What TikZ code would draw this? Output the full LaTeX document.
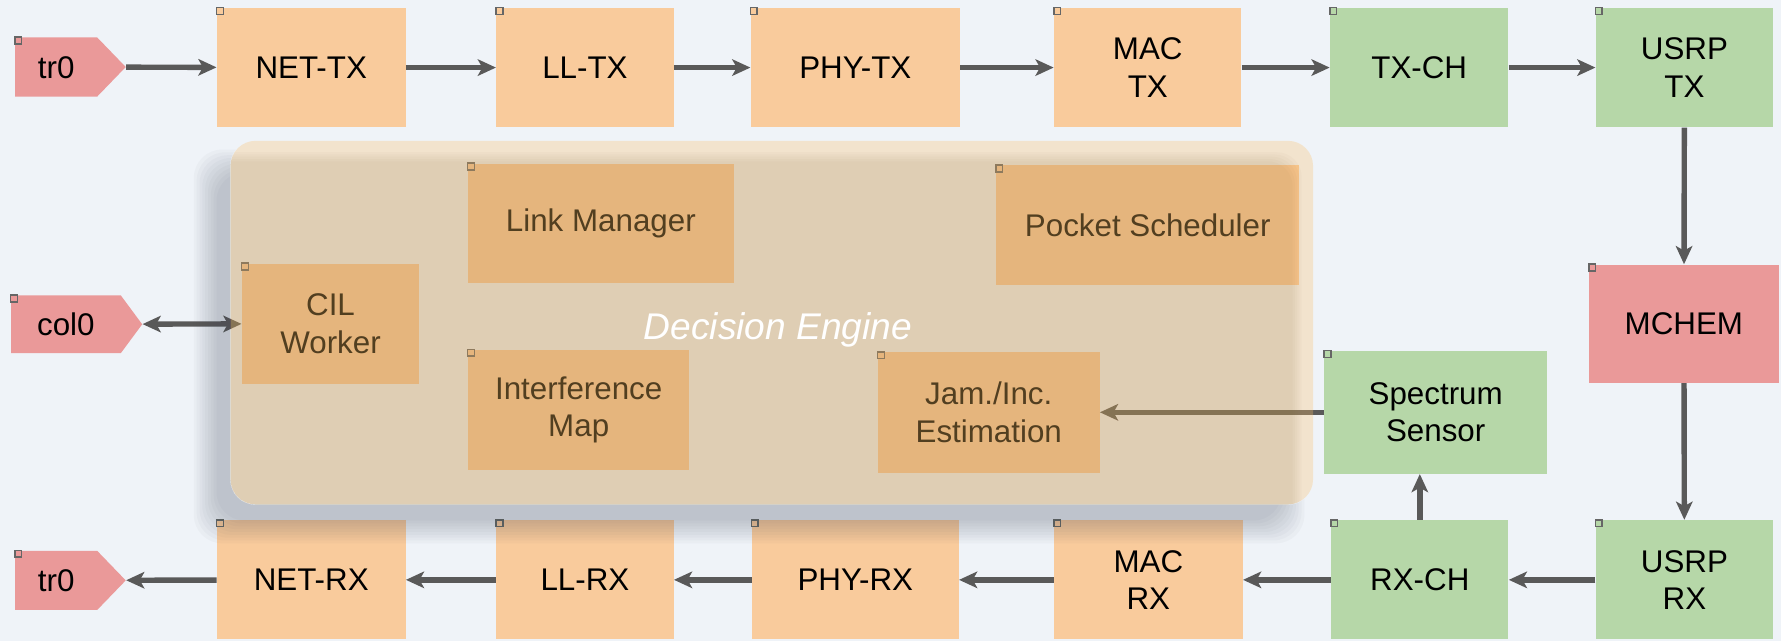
\documentclass[tikz,border=0pt]{standalone}
\usepackage{fontspec}
\setmainfont{Liberation Sans}
\usetikzlibrary{shapes,shapes.symbols,arrows.meta,calc}

\definecolor{bgcol}{HTML}{EFF3F8}
\definecolor{peach}{HTML}{F9CB9C}
\definecolor{leaf}{HTML}{B6D7A8}
\definecolor{rose}{HTML}{EA9999}
\definecolor{wire}{HTML}{595959}
\definecolor{handlecol}{HTML}{666666}
\definecolor{enginelight}{RGB}{252,193,106}
\definecolor{engineshade}{RGB}{131,95,52}
\definecolor{shadowcol}{RGB}{60,70,85}

\newcommand{\blockfont}{\fontsize{15.7}{18.8}\selectfont}
\newcommand{\enginefont}{\fontsize{18.6}{20}\selectfont\itshape}

\begin{document}
\begin{tikzpicture}[->,>={Stealth[length=3.2mm,width=2.9mm,inset=0.8mm]},
                    x=0.2mm,y=-0.2mm,font=\blockfont]
  \tikzstyle{every edge}=[draw=wire,line width=0.95mm]
  \tikzstyle{block}=[rectangle,inner sep=2pt,align=center,minimum height=21mm]
  \tikzstyle{stack}=[block,fill=peach]
  \tikzstyle{radio}=[block,fill=leaf]
  \tikzstyle{emu}=[block,fill=rose]
  \tikzstyle{port}=[signal,signal to=east,fill=rose,inner ysep=0pt,
                    text height=7.2mm,text depth=3.2mm]
  \tikzstyle{handle}=[-,draw=handlecol,line width=0.3mm]
  \tikzstyle{engine}=[rectangle,rounded corners=4.4mm,minimum width=190.6mm,
                      minimum height=64mm,fill=enginelight,fill opacity=0.3,
                      text opacity=1,text=white,font=\enginefont,
                      path picture={\foreach \d in {0,2,4,6,8}
                        \fill[engineshade,fill opacity=0.03,rounded corners=4.4mm]
                          ($(path picture bounding box.north west)+(-30,10+\d)$) rectangle
                          ($(path picture bounding box.south east)+(-10-\d,30)$);}]

  \useasboundingbox (0,0) rectangle (1568,564);
  \fill[bgcol] (0,0) rectangle (1568,564);

  % transmit side
  \node[port,signal pointer angle=92,inner xsep=4mm] (TR0) at (49.5,59) {tr0};
  \node[stack,minimum width=33.2mm] (NETTX) at (274,59.5)    {NET-TX};
  \node[stack,minimum width=31.2mm] (LLTX)  at (515,59.5)    {LL-TX};
  \node[stack,minimum width=36.8mm] (PHYTX) at (753,59.5)    {PHY-TX};
  \node[stack,minimum width=33mm]   (MACTX) at (1010.5,59.5) {MAC\\TX};
  \node[radio,minimum width=31.4mm] (TXCH)  at (1249.5,59.5) {TX-CH};
  \node[radio,minimum width=31.2mm] (USRPTX) at (1483,59.5)  {USRP\\TX};

  % channel emulator and sensing
  \node[emu,minimum width=33.4mm,minimum height=20.8mm] (MCHEM) at (1482.5,285) {MCHEM};
  \node[radio,minimum width=39.2mm,minimum height=21.6mm] (SENSOR) at (1264,363)
        {Spectrum\\Sensor};

  % receive side
  \node[radio,minimum width=31.2mm] (USRPRX) at (1483,510.5)  {USRP\\RX};
  \node[radio,minimum width=31.2mm] (RXCH)  at (1250,510.5)   {RX-CH};
  \node[stack,minimum width=33.2mm] (MACRX) at (1011,510.5)   {MAC\\RX};
  \node[stack,minimum width=36.4mm] (PHYRX) at (753,510.5)    {PHY-RX};
  \node[stack,minimum width=31.2mm] (LLRX)  at (515,510.5)    {LL-RX};
  \node[stack,minimum width=33.2mm] (NETRX) at (274,510.5)    {NET-RX};
  \node[port,signal pointer angle=92,inner xsep=4mm] (TR1) at (49.5,511) {tr0};

  % decision engine blocks
  \node[port,signal pointer angle=107,inner xsep=4.6mm,text height=7.1mm,text depth=3.1mm]
        (COL0) at (58,285.5) {col0};
  \node[stack,minimum width=31.2mm,minimum height=21.2mm] (CIL)   at (291,285)    {CIL\\Worker};
  \node[stack,minimum width=46.8mm] (LINK)  at (529,196.5)  {Link Manager};
  \node[stack,minimum width=53.4mm] (SCHED) at (1010.5,198) {Pocket Scheduler};
  \node[stack,minimum width=39mm,minimum height=21.2mm] (IMAP) at (509.5,361) {Interference\\Map};
  \node[stack,minimum width=39mm,minimum height=21.2mm] (JAM)  at (870.5,363) {Jam./Inc.\\Estimation};

  \path (TR0)    edge (NETTX)
        (NETTX)  edge (LLTX)
        (LLTX)   edge (PHYTX)
        (PHYTX)  edge (MACTX)
        (MACTX)  edge (TXCH)
        (TXCH)   edge (USRPTX)
        (USRPTX) edge (MCHEM)
        (MCHEM)  edge (USRPRX)
        (USRPRX) edge (RXCH)
        (RXCH)   edge (MACRX)
        (MACRX)  edge (PHYRX)
        (PHYRX)  edge (LLRX)
        (LLRX)   edge (NETRX)
        (NETRX)  edge (TR1)
        (RXCH.north) edge (RXCH.north |- SENSOR.south)
        (SENSOR) edge (JAM)
        (COL0)   edge [<->] (CIL);

  % grab handles
  \foreach \n in {TR0,NETTX,LLTX,PHYTX,MACTX,TXCH,USRPTX,MCHEM,SENSOR,USRPRX,RXCH,
                  MACRX,PHYRX,LLRX,NETRX,TR1,COL0,CIL,LINK,SCHED,IMAP,JAM}
    \draw[handle] (\n.north west) rectangle +(6,6);

  \node[engine] (ENGINE) at (679.5,284)
        {\hspace*{2.2mm}\raisebox{-3mm}[0pt][0pt]{Decision Engine}};

  % soft drop shadow, kept outside the engine panel
  \begin{scope}
    \clip (0,0) -- (0,564) -- (1568,564) -- (1568,0) -- cycle
          [rounded corners=4.4mm] (ENGINE.north west) -- (ENGINE.north east)
          -- (ENGINE.south east) -- (ENGINE.south west) -- cycle;
    \foreach \e in {12,9.5,...,-10}
      \fill[shadowcol,fill opacity=0.03,rounded corners=5mm]
        ($(ENGINE.north west)+(-20-\e,20-\e)$) rectangle
        ($(ENGINE.south east)+(-20+\e,22+\e)$);
  \end{scope}
\end{tikzpicture}
\end{document}
